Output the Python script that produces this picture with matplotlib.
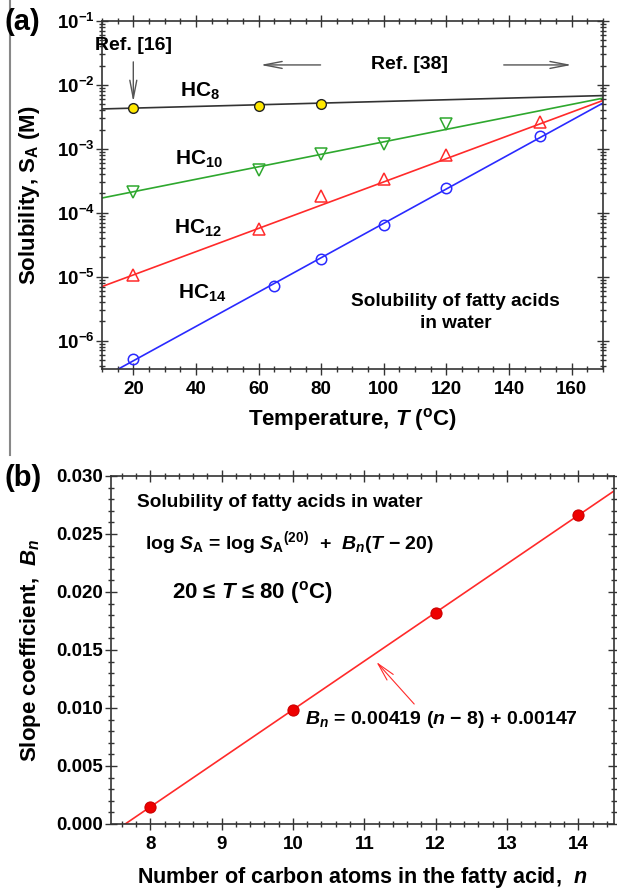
import numpy as np
import matplotlib
matplotlib.use('Agg')
import matplotlib.pyplot as plt
from matplotlib.ticker import LogLocator, FuncFormatter, MultipleLocator, NullFormatter
from matplotlib.lines import Line2D

plt.rcParams['font.family'] = ['Liberation Sans', 'DejaVu Sans']
plt.rcParams['font.weight'] = 'bold'
plt.rcParams['mathtext.fontset'] = 'custom'
plt.rcParams['mathtext.rm'] = 'Liberation Sans:bold'
plt.rcParams['mathtext.it'] = 'Liberation Sans:italic:bold'
plt.rcParams['mathtext.bf'] = 'Liberation Sans:bold'
plt.rcParams['mathtext.sf'] = 'Liberation Sans:bold'

# --- (a) solubility vs temperature ---
t8 = [20, 60, 80]
s8 = [4.4e-3, 4.7e-3, 5.0e-3]
t10 = [20, 60, 80, 100, 120]
s10 = [2.1e-4, 4.6e-4, 8.3e-4, 1.2e-3, 2.45e-3]
t12 = [20, 60, 80, 100, 120, 150]
s12 = [1.07e-5, 5.6e-5, 1.86e-4, 3.4e-4, 8.1e-4, 2.6e-3]
t14 = [20, 65, 80, 100, 120, 150]
s14 = [5.2e-7, 7.2e-6, 1.9e-5, 6.5e-5, 2.45e-4, 1.6e-3]

# fitted lines, values at the ends of the temperature range
fit_t = [10, 170]
fit8 = [4.2e-3, 6.8e-3]
fit10 = [1.7e-4, 6.2e-3]
fit12 = [7.0e-6, 5.7e-3]
fit14 = [2.6e-7, 5.2e-3]

# --- (b) slope coefficient vs carbon number ---
n_atoms = [8, 10, 12, 14]
b_n = [0.00147, 0.00985, 0.01823, 0.02661]
b_slope = 0.00419
b_icpt = 0.00147
n_fit = np.array([7.45, 14.5])

GREEN = '#2EA82E'
RED = '#FF2A2A'
BLUE = '#2A2AFF'
GREY = '#555555'

fig = plt.figure(figsize=(6.17, 8.91), dpi=100)
ax1 = fig.add_axes([0.1653, 0.5859, 0.812, 0.3906])
ax2 = fig.add_axes([0.1799, 0.0752, 0.8152, 0.3906])


def style_axes(ax):
    for sp in ax.spines.values():
        sp.set_linewidth(1.2)
        sp.set_color('#333333')
    ax.tick_params(which='both', direction='inout', top=True, right=True,
                   labelsize=13.5, width=1.0, color='#333333')
    ax.tick_params(which='major', length=8, pad=5)
    ax.tick_params(which='minor', length=4.5)


# panel (a)
ax1.plot(fit_t, fit8, color='#333333', lw=1.2)
ax1.plot(fit_t, fit10, color=GREEN, lw=1.2)
ax1.plot(fit_t, fit12, color=RED, lw=1.2)
ax1.plot(fit_t, fit14, color=BLUE, lw=1.2)
ax1.plot(t8, s8, 'o', ms=7, mfc='#FFE800', mec='#222222', mew=1.0)
ax1.plot(t10, s10, 'v', ms=8, mfc='none', mec=GREEN, mew=1.1)
ax1.plot(t12, s12, '^', ms=8, mfc='none', mec=RED, mew=1.1)
ax1.plot(t14, s14, 'o', ms=7.5, mfc='none', mec=BLUE, mew=1.1)

ax1.set_yscale('log')
ax1.set_xlim(10, 170)
ax1.set_ylim(3.6e-7, 0.1)
ax1.xaxis.set_major_locator(MultipleLocator(20))
ax1.xaxis.set_minor_locator(MultipleLocator(5))
ax1.yaxis.set_major_locator(LogLocator(base=10, subs=(1.0,)))
ax1.yaxis.set_minor_locator(LogLocator(base=10, subs=np.arange(2, 10)))
ax1.yaxis.set_minor_formatter(NullFormatter())
ax1.yaxis.set_major_formatter(FuncFormatter(lambda v, p: r'$10^{%d}$' % round(np.log10(v))))
style_axes(ax1)
ax1.tick_params(axis='y', which='major', pad=1)

ax1.set_xlabel(r'Temperature, $T$ ($^{\rm o}$C)', fontsize=16, fontweight='bold')
ax1.set_ylabel(r'Solubility, S$_{\rm A}$ (M)', fontsize=16, fontweight='bold')
ax1.xaxis.set_label_coords(0.5, -0.105)
ax1.yaxis.set_label_coords(-0.12, 0.5)

ax1.text(41.3, 6.5e-3, r'HC$_8$', fontsize=15, ha='center', va='baseline')
ax1.text(41.0, 5.6e-4, r'HC$_{10}$', fontsize=15, ha='center', va='baseline')
ax1.text(40.7, 4.7e-5, r'HC$_{12}$', fontsize=15, ha='center', va='baseline')
ax1.text(42.0, 4.6e-6, r'HC$_{14}$', fontsize=15, ha='center', va='baseline')

arrow_kw = dict(arrowstyle='->,head_length=1.3,head_width=0.25', color=GREY, lw=1.0,
                shrinkA=0, shrinkB=0)
ax1.text(20, 0.042, 'Ref. [16]', fontsize=14, ha='center', va='center')
ax1.annotate('', xy=(20, 5.4e-3), xytext=(20, 0.0229), arrowprops=arrow_kw)
ax1.text(108.3, 0.0205, 'Ref. [38]', fontsize=14, ha='center', va='center')
ax1.annotate('', xy=(60.6, 0.0205), xytext=(79.8, 0.0205), arrowprops=arrow_kw)
ax1.annotate('', xy=(160.0, 0.0205), xytext=(138.3, 0.0205), arrowprops=arrow_kw)
ax1.text(123, 2.75e-6, 'Solubility of fatty acids\nin water', fontsize=13.7,
         ha='center', va='center', multialignment='center', linespacing=1.35)

fig.text(0.008, 0.975, '(a)', fontsize=21, fontweight='bold', va='center')
fig.add_artist(Line2D([0.016, 0.016], [0.489, 1.0], color='#888888', lw=1.5))

# panel (b)
ax2.plot(n_fit, b_slope * (n_fit - 8) + b_icpt, color=RED, lw=1.2)
ax2.plot(n_atoms, b_n, 'o', ms=8, mfc='#EE0000', mec='#CC0000', mew=0.8)
ax2.set_xlim(7.45, 14.5)
ax2.set_ylim(0, 0.030)
ax2.xaxis.set_major_locator(MultipleLocator(1))
ax2.xaxis.set_minor_locator(MultipleLocator(0.2))
ax2.yaxis.set_major_locator(MultipleLocator(0.005))
ax2.yaxis.set_minor_locator(MultipleLocator(0.001))
ax2.yaxis.set_major_formatter(FuncFormatter(lambda v, p: '%.3f' % v))
style_axes(ax2)
ax2.tick_params(axis='y', which='major', pad=2)

ax2.set_xlabel(r'Number of carbon atoms in the fatty acid,  $n$', fontsize=15.5, fontweight='bold')
ax2.set_ylabel(r'Slope coefficient,  $B_n$', fontsize=16, fontweight='bold')
ax2.xaxis.set_label_coords(0.5, -0.117)
ax2.yaxis.set_label_coords(-0.135, 0.5)

ax2.text(0.052, 0.925, 'Solubility of fatty acids in water', transform=ax2.transAxes,
         fontsize=13.7, ha='left', va='center')
ax2.text(0.068, 0.807, r'log $S_{\rm A}$ = log $S_{\rm A}$$^{(20)}$  +  $B_n$($T$ $-$ 20)',
         transform=ax2.transAxes, fontsize=14, ha='left', va='center')
ax2.text(0.121, 0.664, r'20 ≤ $T$ ≤ 80 ($^{\rm o}$C)', transform=ax2.transAxes,
         fontsize=16, ha='left', va='center')
ax2.text(0.386, 0.299, r'$B_n$ = 0.00419 ($n$ $-$ 8) + 0.00147', transform=ax2.transAxes,
         fontsize=14, ha='left', va='center')
ax2.annotate('', xy=(11.17, 0.01397), xytext=(11.70, 0.01034),
             arrowprops=dict(arrowstyle='->,head_length=1.3,head_width=0.3', color=RED,
                             lw=0.8, shrinkA=0, shrinkB=0))

fig.text(0.008, 0.463, '(b)', fontsize=21, fontweight='bold', va='center')

fig.savefig('out.png', dpi=100)
